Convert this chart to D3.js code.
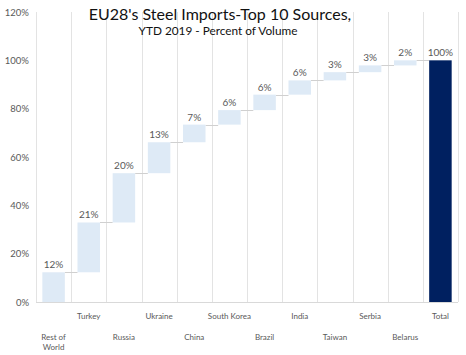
<!DOCTYPE html>
<html><head><meta charset="utf-8">
<script src="https://cdn.jsdelivr.net/npm/d3@7"></script>
<style>body{margin:0;background:#fff}svg{display:block}</style>
</head><body>
<svg id="c" width="466" height="355"></svg>
<script>
const categories = ["Rest of World","Turkey","Russia","Ukraine","China","South Korea","Brazil","India","Taiwan","Serbia","Belarus","Total"];
const values = [12.3,20.6,20.4,12.8,7.3,6.0,6.4,5.9,3.4,2.8,2.1];
const totalValue = 100;
const yTicks = [0,20,40,60,80,100,120];
const title = "EU28's Steel Imports-Top 10 Sources,";
const subtitle = "YTD 2019 - Percent of Volume";

const svg = d3.select("#c");
const pLeft = 36, pRight = 458, pTop = 12, pBottom = 302;
const x = d3.scaleBand().domain(categories).range([pLeft, pRight]).paddingInner(0.36).paddingOuter(0.18);
const y = d3.scaleLinear().domain([0,120]).range([pBottom, pTop]);
const step = x.step();
const font = "Lato, 'Open Sans', sans-serif";

// vertical gridlines at band boundaries
const bounds = d3.range(categories.length + 1).map(i => Math.round(pLeft + i*step) + 0.5);
svg.append("g").selectAll("line").data(bounds).join("line")
  .attr("x1", d=>d).attr("x2", d=>d).attr("y1", pTop).attr("y2", pBottom)
  .attr("stroke", "#e3e3e3").attr("stroke-width", 1);
svg.append("line").attr("x1", pLeft).attr("x2", pRight).attr("y1", pBottom+0.5).attr("y2", pBottom+0.5)
  .attr("stroke", "#d9d9d9");

// waterfall data
let cum = 0;
const bars = values.map((v,i) => { const b = {cat: categories[i], v, y0: cum, y1: cum + v}; cum += v; return b; });
bars.push({cat: "Total", v: totalValue, y0: 0, y1: totalValue, total: true});

// connectors
const conn = svg.append("g");
for (let i = 0; i < bars.length - 1; i++) {
  conn.append("line")
    .attr("x1", x(bars[i].cat) + x.bandwidth()).attr("x2", x(bars[i+1].cat))
    .attr("y1", Math.round(y(bars[i].y1)) + 0.5).attr("y2", Math.round(y(bars[i].y1)) + 0.5)
    .attr("stroke", "#d0d0d0").attr("stroke-width", 1);
}

svg.append("g").selectAll("rect").data(bars).join("rect")
  .attr("x", d => x(d.cat)).attr("width", x.bandwidth())
  .attr("y", d => y(d.y1)).attr("height", d => y(d.y0) - y(d.y1))
  .attr("fill", d => d.total ? "#002060" : "#deeaf6");

svg.append("g").selectAll("text").data(bars).join("text")
  .attr("x", d => x(d.cat) + x.bandwidth()/2).attr("y", d => y(d.y1) - 4)
  .attr("text-anchor", "middle").attr("font-family", font).attr("font-size", 10)
  .attr("fill", "#595959").text(d => Math.round(d.v) + "%");

// y axis labels
svg.append("g").selectAll("text").data(yTicks).join("text")
  .attr("x", 29).attr("y", d => y(d) + 3.5).attr("text-anchor", "end")
  .attr("font-family", font).attr("font-size", 9.5).attr("fill", "#595959")
  .text(d => d + "%");

// x labels staggered
const xl = svg.append("g");
categories.forEach((c, i) => {
  const cx = x(c) + x.bandwidth()/2;
  const yy = (i % 2 === 1) ? 319 : 340;
  const t = xl.append("text").attr("x", cx).attr("y", yy).attr("text-anchor", "middle")
    .attr("font-family", font).attr("font-size", 8).attr("fill", "#595959");
  if (c === "Rest of World") {
    t.append("tspan").attr("x", cx).attr("dy", 0).text("Rest of");
    t.append("tspan").attr("x", cx).attr("dy", 10).text("World");
  } else t.text(c);
});

svg.append("text").attr("x", 220).attr("y", 20).attr("text-anchor", "middle")
  .attr("font-family", font).attr("font-size", 16).attr("fill", "#111").text(title);
svg.append("text").attr("x", 218).attr("y", 35).attr("text-anchor", "middle")
  .attr("font-family", font).attr("font-size", 11.8).attr("fill", "#111").text(subtitle);
</script>
</body></html>
